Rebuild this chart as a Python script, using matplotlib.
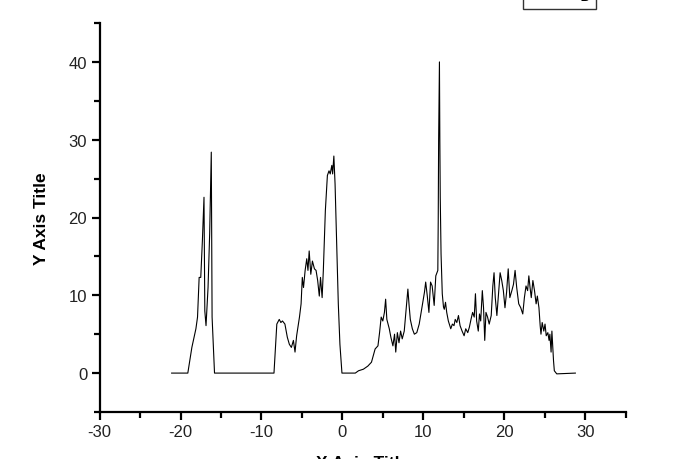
import matplotlib
matplotlib.use('Agg')
import matplotlib.pyplot as plt
from matplotlib.ticker import MultipleLocator

plt.rcParams['axes.unicode_minus'] = False

# values (x, y)
x_first = [-21.1, -19.1, -18.6, -18.1, -17.9, -17.7, -17.5, -17.3, -17.1, -17.0,
           -16.85, -16.6, -16.4, -16.3, -16.2, -16.1, -15.8]
y_first = [0, 0, 3.3, 5.7, 7.2, 12.3, 12.3, 17.0, 22.6, 8.0,
           6.1, 11.0, 17.9, 23.0, 28.4, 7.2, 0]

x_second = [-8.45, -8.1, -7.8, -7.6, -7.4, -7.1, -6.8, -6.55, -6.3, -6.05,
            -5.85, -5.65, -5.3, -5.1, -4.95, -4.8, -4.6, -4.4, -4.25, -4.1,
            -3.9, -3.7, -3.45, -3.25, -3.05, -2.85, -2.7, -2.5, -2.35, -2.1,
            -1.85, -1.65, -1.5, -1.3, -1.2, -1.05, -0.9, -0.7, -0.5, -0.3, -0.05]
y_second = [0, 6.3, 6.9, 6.5, 6.7, 6.3, 4.6, 3.7, 3.3, 4.2,
            2.7, 4.8, 7.2, 8.9, 12.3, 11.0, 13.2, 14.7, 13.2, 15.7,
            12.7, 14.4, 13.4, 13.2, 11.9, 9.9, 12.3, 9.7, 13.2, 20.9,
            25.4, 26.0, 25.6, 26.7, 25.6, 27.9, 24.3, 16.6, 8.9, 3.7, 0]

x_third = [1.6, 2.0, 2.6, 3.15, 3.6, 4.05, 4.4, 4.6, 4.8, 5.0,
           5.2, 5.35, 5.5, 5.8, 6.0, 6.25, 6.45, 6.6, 6.8, 7.0,
           7.2, 7.4, 7.65, 7.85, 8.1, 8.25, 8.4, 8.65, 8.9, 9.2,
           9.5, 9.8, 10.15, 10.3, 10.5, 10.7, 10.9, 11.1, 11.35, 11.55,
           11.8, 11.85, 11.9, 12.0, 12.05, 12.1, 12.2, 12.35, 12.5, 12.6,
           12.75, 12.9, 13.1, 13.4, 13.6, 13.8, 13.95, 14.15, 14.35, 14.55,
           14.8, 15.05, 15.25, 15.5, 15.7, 15.9, 16.1, 16.3, 16.45, 16.6,
           16.8, 16.95, 17.1, 17.3, 17.45, 17.6, 17.75, 17.95, 18.15, 18.4,
           18.6, 18.75, 18.9, 19.1, 19.3, 19.5, 19.7, 19.9, 20.1, 20.3,
           20.5, 20.7, 20.95, 21.15, 21.35, 21.55, 21.8, 22.05, 22.3, 22.5,
           22.7, 22.9, 23.05, 23.2, 23.35, 23.55, 23.75, 23.95, 24.1, 24.3,
           24.45, 24.55, 24.7, 24.9, 25.05, 25.2, 25.4, 25.55, 25.65, 25.8,
           25.9, 26.1, 26.2, 26.5, 28.8]
y_third = [0, 0.3, 0.5, 0.9, 1.4, 3.1, 3.5, 5.2, 7.2, 6.7,
           7.8, 9.5, 6.9, 5.7, 4.6, 3.5, 5.0, 2.7, 5.2, 3.9,
           5.4, 4.4, 5.4, 7.8, 10.8, 8.7, 6.9, 5.7, 5.0, 5.2,
           6.3, 8.2, 10.4, 11.7, 9.9, 7.8, 11.7, 11.2, 8.7, 12.5,
           13.2, 19.6, 29.9, 40.0, 29.9, 22.6, 15.3, 10.2, 8.5, 8.2,
           9.1, 7.8, 6.7, 5.7, 6.3, 6.1, 6.9, 6.5, 7.4, 6.1,
           5.4, 4.8, 5.7, 5.2, 5.9, 6.9, 7.8, 7.2, 10.2, 6.7,
           5.4, 7.6, 6.7, 10.6, 8.4, 4.2, 7.8, 7.2, 6.3, 7.4,
           11.2, 12.9, 9.7, 7.4, 10.2, 12.9, 11.9, 10.6, 8.4, 10.4,
           13.4, 9.7, 10.6, 11.4, 13.2, 11.0, 8.9, 8.4, 7.6, 9.7,
           11.2, 10.6, 12.5, 11.0, 9.7, 11.9, 10.6, 8.9, 9.9, 8.4,
           6.1, 5.0, 6.5, 5.4, 6.3, 4.8, 5.2, 4.2, 5.0, 2.7,
           5.4, 1.6, 0.3, -0.1, 0]

x_vals = x_first + x_second + [0.1] + x_third
y_vals = y_first + y_second + [0] + y_third

fig = plt.figure(figsize=(6.75, 4.6), dpi=100)
ax = fig.add_axes([0.1476, 0.1022, 0.7791, 0.8456])

line, = ax.plot(x_vals, y_vals, color='black', lw=0.8, label='B')

ax.set_xlim(-30, 35)
ax.set_ylim(-5, 45)
ax.xaxis.set_major_locator(MultipleLocator(10))
ax.xaxis.set_minor_locator(MultipleLocator(5))
ax.yaxis.set_major_locator(MultipleLocator(10))
ax.yaxis.set_minor_locator(MultipleLocator(5))

for s in ['top', 'right']:
    ax.spines[s].set_visible(False)
for s in ['left', 'bottom']:
    ax.spines[s].set_linewidth(1.6)

tick_font = ['Liberation Sans Narrow', 'Liberation Sans', 'DejaVu Sans']
ax.tick_params(which='major', direction='out', length=6, width=1.6,
               labelsize=12, pad=3)
ax.tick_params(which='minor', direction='out', length=4, width=1.6)
for lab in ax.get_xticklabels() + ax.get_yticklabels():
    lab.set_family(tick_font)
    lab.set_color('#222222')

ax.set_xlabel('X Axis Title', family=['Liberation Sans', 'DejaVu Sans'],
              fontsize=12.5, fontweight='bold', labelpad=11)
ax.set_ylabel('Y Axis Title', family=['Liberation Sans', 'DejaVu Sans'],
              fontsize=12.5, fontweight='bold', labelpad=14)

leg = fig.legend(handles=[line], loc='lower left',
                 bbox_to_anchor=(523 / 675, 1 - 10 / 460),
                 frameon=True, fancybox=False, edgecolor='black',
                 handlelength=2.5, fontsize=11, borderaxespad=0)
leg.get_frame().set_linewidth(1.0)

fig.savefig('out.png', dpi=100)
